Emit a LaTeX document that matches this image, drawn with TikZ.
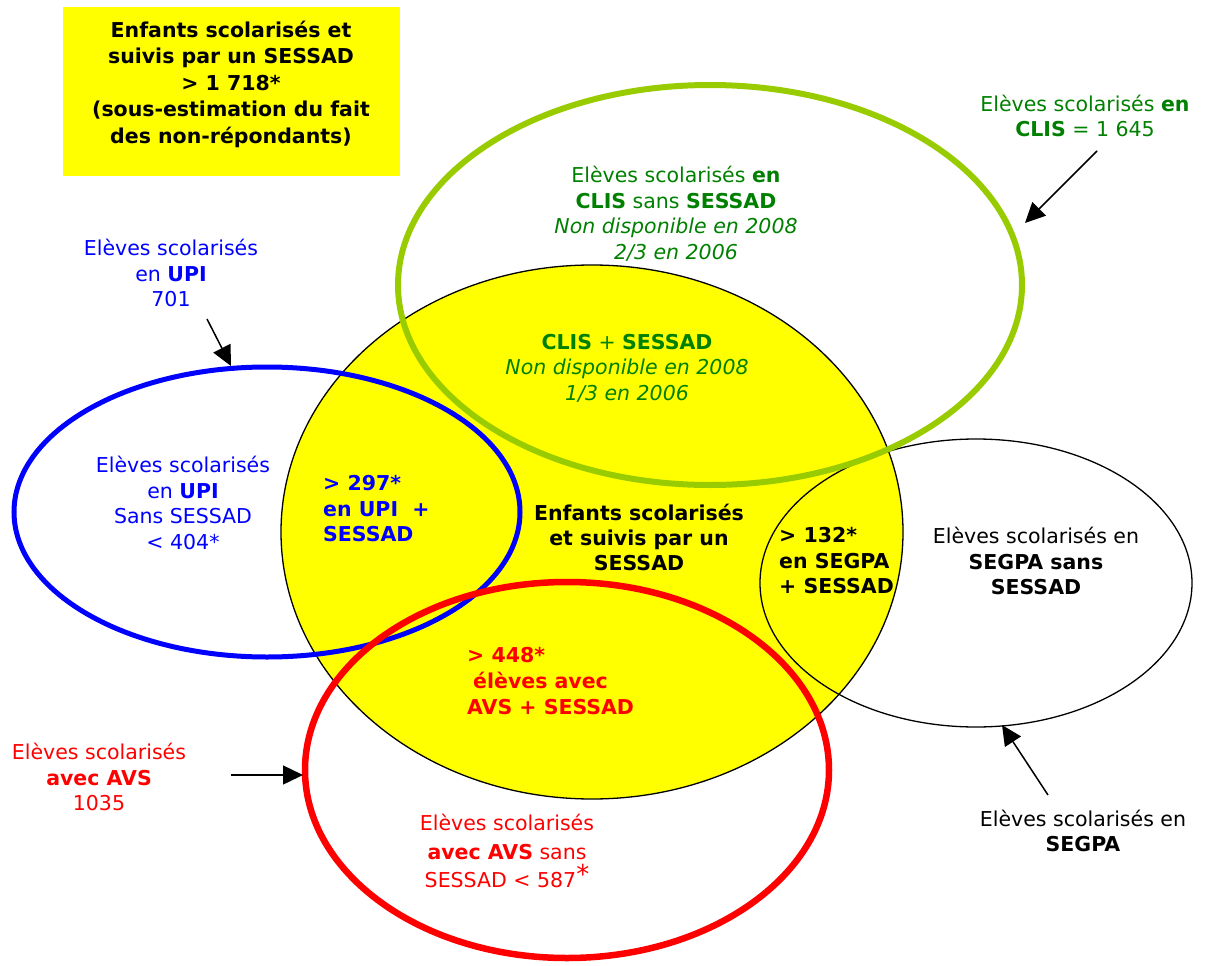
\documentclass[tikz,border=0pt]{standalone}
\usepackage{fontspec}
\setmainfont{DejaVu Sans}
\usetikzlibrary{arrows.meta}
\definecolor{cyel}{HTML}{FFFF00}
\definecolor{cgreenline}{HTML}{99CC00}
\definecolor{cgreentxt}{HTML}{008000}
\definecolor{cblue}{HTML}{0000FF}
\definecolor{cred}{HTML}{FF0000}
\tikzset{
  txt/.style={inner sep=0pt, align=center, font=\fontsize{20.5}{25.5}\selectfont},
  txtl/.style={inner sep=0pt, align=left, anchor=west, font=\fontsize{20.5}{25.5}\selectfont},
  pointer/.style={line width=1.5pt, -{Triangle[length=20pt,width=19pt]}},
}
\begin{document}
\begin{tikzpicture}[x=1pt,y=-1pt]
\useasboundingbox (0,0) rectangle (1211,966);
% title box
\node[fill=cyel, minimum width=337pt, minimum height=168pt, inner sep=0pt] (box) at (231.5,91.5) {};
\node[txt, font=\bfseries\fontsize{20.5}{26.5}\selectfont] (boxtext) at (231,84)
  {Enfants scolarisés et\\suivis par un SESSAD\\> 1 718*\\(sous-estimation du fait\\des non-répondants)};
% yellow SESSAD ellipse
\fill[cyel] (592,532) ellipse [x radius=311, y radius=267];
\draw[line width=1.3pt] (592,532) ellipse [x radius=311, y radius=267];
% SEGPA ellipse
\draw[line width=1.3pt] (976,583) ellipse [x radius=216, y radius=144];
% UPI ellipse
\draw[cblue, line width=5pt] (267,512) ellipse [x radius=253, y radius=145];
% CLIS ellipse
\draw[cgreenline, line width=6pt] (710,285) ellipse [x radius=312, y radius=200];
% AVS ellipse
\draw[cred, line width=6.5pt] (567,770) ellipse [x radius=262, y radius=188];

% texts
\node[txt, text=cgreentxt] (clislabel) at (1085,116)
  {Elèves scolarisés \textbf{en}\\\textbf{CLIS} = 1 645};
\node[txt, text=cgreentxt] (clisinner) at (676,214)
  {Elèves scolarisés \textbf{en}\\\textbf{CLIS} sans \textbf{SESSAD}\\\textit{Non disponible en 2008}\\\textit{2/3 en 2006}};
\node[txt, text=cgreentxt] (clisplus) at (627,368)
  {\textbf{CLIS} + \textbf{SESSAD}\\\textit{Non disponible en 2008}\\\textit{1/3 en 2006}};
\node[txt, text=cblue] (upilabel) at (171,273)
  {Elèves scolarisés\\en \textbf{UPI}\\701};
\node[txt, text=cblue] (upiinner) at (183,503)
  {Elèves scolarisés\\en \textbf{UPI}\\Sans SESSAD\\< 404*};
\node[txtl, text=cblue, font=\bfseries\fontsize{20.5}{25.5}\selectfont] (upiplus) at (323,509)
  {> 297*\\en UPI~ +\\SESSAD};
\node[txt, font=\bfseries\fontsize{20.5}{25}\selectfont] (enfants) at (639,537)
  {Enfants scolarisés\\et suivis par un\\SESSAD};
\node[txtl, font=\bfseries\fontsize{20.5}{25.5}\selectfont] (segpaplus) at (779,561)
  {> 132*\\en SEGPA\\+ SESSAD};
\node[txt] (segpainner) at (1036,561)
  {Elèves scolarisés en\\\textbf{SEGPA sans}\\\textbf{SESSAD}};
\node[txt, text=cred] (avslabel) at (99,777)
  {Elèves scolarisés\\\textbf{avec AVS}\\1035};
\node[txtl, text=cred, font=\bfseries\fontsize{20.5}{26}\selectfont] (avsplus) at (467,681)
  {> 448*\\\hspace*{6pt}élèves avec\\AVS + SESSAD};
\node[txt, text=cred, font=\fontsize{20.5}{28.5}\selectfont] (avsinner) at (507,851)
  {Elèves scolarisés\\\textbf{avec AVS} sans\\SESSAD < 587\raisebox{4pt}{\fontsize{26}{26}\selectfont*}};
\node[txt] (segpalabel) at (1083,831)
  {Elèves scolarisés en\\\textbf{SEGPA}};

% arrows
\coordinate (clisfrom) at (1097,151);
\coordinate (clisto) at (1025,223);
\coordinate (upifrom) at (207,319);
\coordinate (upito) at (231,366);
\coordinate (avsfrom) at (231,775);
\coordinate (avsto) at (303,775);
\coordinate (segpafrom) at (1048,795);
\coordinate (segpato) at (1002,725);
\draw[pointer] (clisfrom) -- (clisto);
\draw[pointer] (upifrom) -- (upito);
\draw[pointer] (avsfrom) -- (avsto);
\draw[pointer] (segpafrom) -- (segpato);
\end{tikzpicture}
\end{document}
